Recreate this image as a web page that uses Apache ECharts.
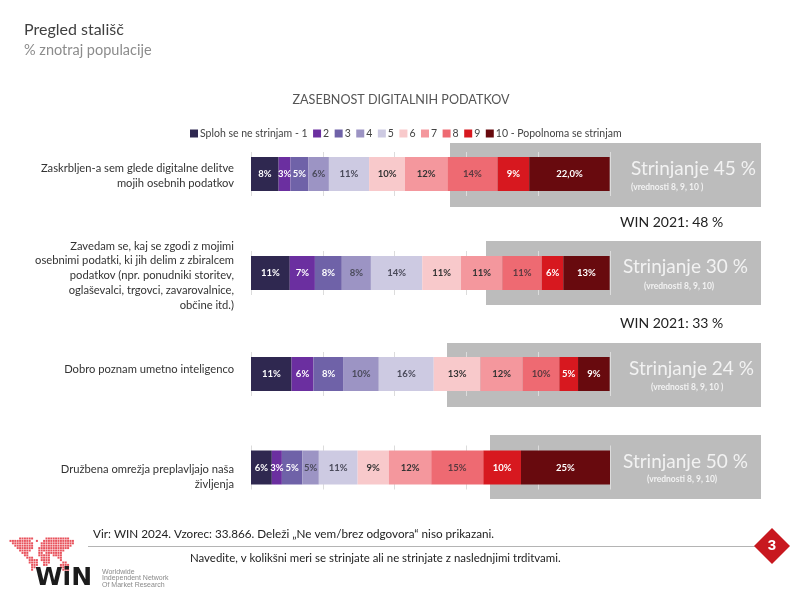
<!DOCTYPE html>
<html lang="sl">
<head>
    <meta charset="utf-8">
    <title>Pregled stališč</title>
    <script src="https://cdn.jsdelivr.net/npm/echarts@6/dist/echarts.min.js"></script>
    <style>html,body{margin:0;padding:0;background:#fff}</style>
</head>
<body>
    <div id="main" style="width:800px;height:598px;"></div>
    <script type="text/javascript">
    // answer scale, one stack segment per answer
    var answers = ['Sploh se ne strinjam - 1', '2', '3', '4', '5', '6', '7', '8', '9', '10 - Popolnoma se strinjam'];
    var questions = [
        'Zaskrbljen-a sem glede digitalne delitve\nmojih osebnih podatkov',
        'Zavedam se, kaj se zgodi z mojimi\nosebnimi podatki, ki jih delim z zbiralcem\npodatkov (npr. ponudniki storitev,\noglaševalci, trgovci, zavarovalnice,\nobčine itd.)',
        'Dobro poznam umetno inteligenco',
        'Družbena omrežja preplavljajo naša\nživljenja'
    ];
    // widths, printed labels kept separately
    var valuesDelitev = [7.7, 3.3, 5.0, 5.7, 11.2, 10, 11.8, 14, 8.8, 22.4];
    var valuesZavedam = [10.8, 7, 7.5, 8.1, 14.3, 10.8, 11.5, 11, 6, 12.9];
    var valuesUmetna = [11.3, 6.1, 8.4, 9.8, 15.3, 13, 11.8, 10.2, 5.2, 8.8];
    var valuesOmrezja = [5.8, 2.8, 5.7, 4.6, 10.8, 8.7, 11.8, 14.5, 10.5, 24.8];
    var labelsDelitev = ['8%', '3%', '5%', '6%', '11%', '10%', '12%', '14%', '9%', '22,0%'];
    var labelsZavedam = ['11%', '7%', '8%', '8%', '14%', '11%', '11%', '11%', '6%', '13%'];
    var labelsUmetna = ['11%', '6%', '8%', '10%', '16%', '13%', '12%', '10%', '5%', '9%'];
    var labelsOmrezja = ['6%', '3%', '5%', '5%', '11%', '9%', '12%', '15%', '10%', '25%'];
    var agreeTitles = ['Strinjanje 45 %', 'Strinjanje 30 %', 'Strinjanje 24 %', 'Strinjanje 50 %'];
    var agreeNotes = ['(vrednosti 8, 9, 10 )', '(vrednosti 8, 9, 10)', '(vrednosti 8, 9, 10 )', '(vrednosti 8, 9, 10)'];

    var rowValues = [valuesDelitev, valuesZavedam, valuesUmetna, valuesOmrezja];
    var rowLabels = [labelsDelitev, labelsZavedam, labelsUmetna, labelsOmrezja];

    var colors = ['#2f2850', '#6b2fa0', '#6f62a8', '#9c94c4', '#cdcae2', '#f8c9cb', '#f4979d', '#ee6a72', '#d7181f', '#680a0e'];
    var labelColors = ['#fff', '#fff', '#fff', '#4a4a5a', '#4a4a5a', '#333', '#333', '#5a3a40', '#fff', '#fff'];

    var font = 'Lato';
    var barCentres = [174, 273, 374, 467.5];
    var questionCentres = [176, 275.5, 369, 477];

    // the grey boxes behind the bars
    var boxes = [
        {x: 450, y: 143, textX: 631, titleY: 169, noteX: 631, noteY: 187},
        {x: 486, y: 241, textX: 623, titleY: 267, noteX: 644, noteY: 286},
        {x: 447, y: 343, textX: 629, titleY: 369, noteX: 651, noteY: 387},
        {x: 490, y: 435, textX: 623, titleY: 462, noteX: 647, noteY: 479}
    ];

    var logoMap = [
        '....######.....##########...',
        '#########..#..#############.',
        '.#########...##############.',
        '..########...#############..',
        '...#######..#############...',
        '....#####...###########.....',
        '.....###....##.#######......',
        '......##....#####.####......',
        '.......###...####...##......',
        '........####.####....#......',
        '........####..###.....##....',
        '.........###..##.....####...',
        '.........##..........####...',
        '.........#............###...'
    ];

    var grids = [], xAxes = [], yAxes = [], series = [];
    rowValues.forEach(function (values, r) {
        grids.push({left: 251, width: 359, top: barCentres[r] - 22, height: 44});
        xAxes.push({
            gridIndex: r, type: 'value', min: 0, max: 100, interval: 20,
            axisLabel: {show: false}, axisLine: {show: false}, axisTick: {show: false},
            splitLine: {show: true, lineStyle: {color: '#dcdcdc', width: 1}}
        });
        yAxes.push({
            gridIndex: r, type: 'category', data: [questions[r]],
            axisLine: {show: false}, axisTick: {show: false}, axisLabel: {show: false}
        });
        values.forEach(function (v, i) {
            series.push({
                name: answers[i], type: 'bar', stack: 'row' + r, xAxisIndex: r, yAxisIndex: r,
                barWidth: 34, data: [v],
                itemStyle: {color: colors[i]},
                label: {
                    show: true, position: 'inside', formatter: rowLabels[r][i],
                    color: labelColors[i], fontFamily: font, fontSize: 9.5, fontWeight: 'bold'
                }
            });
        });
    });

    var graphics = [];
    boxes.forEach(function (b, r) {
        graphics.push({type: 'rect', z: -10, shape: {x: b.x, y: b.y, width: 761 - b.x, height: 64}, style: {fill: '#bcbcbc'}});
        graphics.push({type: 'text', z: 10, x: b.textX, y: b.titleY, style: {text: agreeTitles[r], fill: '#f2f2f2', font: '19px ' + font, verticalAlign: 'middle'}});
        graphics.push({type: 'text', z: 10, x: b.noteX, y: b.noteY, style: {text: agreeNotes[r], fill: '#f2f2f2', font: 'bold 8.5px ' + font, verticalAlign: 'middle'}});
    });

    // question texts sit off the bar centres in the original, so they are placed by hand
    questions.forEach(function (q, r) {
        graphics.push({type: 'text', z: 10, x: 234, y: questionCentres[r], style: {
            text: q, fill: '#333', font: '11.2px ' + font, lineHeight: 14.7, align: 'right', verticalAlign: 'middle'
        }});
    });

    function addText(text, x, y, size, fill, weight, family) {
        graphics.push({type: 'text', z: 10, x: x, y: y, style: {
            text: text, fill: fill, verticalAlign: 'middle',
            font: (weight || 'normal') + ' ' + size + 'px ' + (family || font)
        }});
    }
    addText('Pregled stališč', 24, 30, 16, '#404040');
    addText('% znotraj populacije', 24, 50, 14.5, '#8c8c8c');
    addText('WIN 2021: 48 %', 620, 222, 14, '#222');
    addText('WIN 2021: 33 %', 620, 323, 14, '#222');
    addText('Vir: WIN 2024. Vzorec: 33.866. Deleži „Ne vem/brez odgovora“ niso prikazani.', 93, 534, 11.7, '#222');
    addText('Navedite, v kolikšni meri se strinjate ali ne strinjate z naslednjimi trditvami.', 190, 558, 11.45, '#222');

    // footer rule and page number
    graphics.push({type: 'line', z: 5, shape: {x1: 88, y1: 546.5, x2: 756, y2: 546.5}, style: {stroke: '#b4b4b4', lineWidth: 1}});
    graphics.push({type: 'polygon', z: 6, shape: {points: [[772, 528], [790, 546], [772, 564], [754, 546]]}, style: {fill: '#c8181f'}});
    graphics.push({type: 'text', z: 10, x: 772, y: 546, style: {text: '3', fill: '#fff', font: 'bold 15px "Liberation Sans"', align: 'center', verticalAlign: 'middle'}});

    // logo
    logoMap.forEach(function (row, r) {
        row.split('').forEach(function (c, k) {
            if (c === '#') {
                graphics.push({type: 'rect', z: 5, shape: {x: 9.5 + k * 2.4, y: 537.5 + r * 2.4, width: 2, height: 2}, style: {fill: '#e8525c'}});
            }
        });
    });
    addText('WiN', 35, 578, 25, '#1c1c1c', 'bold', '"DejaVu Sans"');
    addText('Worldwide', 102, 572, 7, '#8a8a8a', 'normal', '"Liberation Sans"');
    addText('Independent Network', 102, 578.5, 7, '#8a8a8a', 'normal', '"Liberation Sans"');
    addText('Of Market Research', 102, 585, 7, '#8a8a8a', 'normal', '"Liberation Sans"');

    var chartDom = document.getElementById('main');
    var myChart = echarts.init(chartDom, null, {renderer: 'canvas'});
    var option = {
        animation: false,
        backgroundColor: '#fff',
        title: {
            text: 'ZASEBNOST DIGITALNIH PODATKOV', left: 396, top: 88, textAlign: 'center',
            textStyle: {fontFamily: font, fontSize: 12.6, fontWeight: 'normal', color: '#555'}
        },
        legend: {
            data: answers, left: 185, top: 123, itemWidth: 8, itemHeight: 8, itemGap: 5.5,
            icon: 'rect',
            textStyle: {fontFamily: font, fontSize: 10.5, color: '#444', padding: [0, 0, 0, -3]}
        },
        grid: grids,
        xAxis: xAxes,
        yAxis: yAxes,
        series: series,
        graphic: graphics
    };
    option && myChart.setOption(option);
    </script>
</body>
</html>
